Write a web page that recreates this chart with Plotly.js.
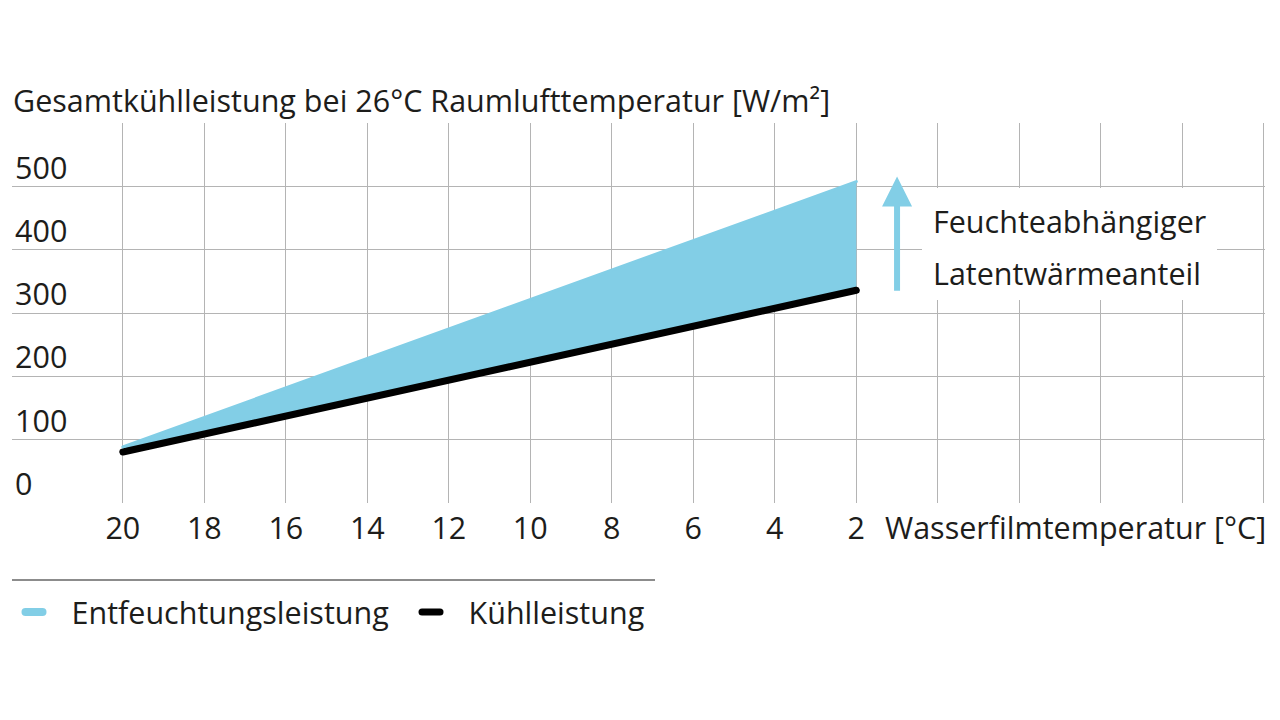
<!DOCTYPE html>
<html>
<head>
<meta charset="utf-8">
<script src="https://cdn.plot.ly/plotly-3.0.1.min.js"></script>
<style>
  html, body { margin: 0; padding: 0; background: #fff; }
  #chart { width: 1280px; height: 720px; }
  .scatterlayer .js-line { stroke-linecap: round; stroke-linejoin: round; }
  .legendlines path { stroke-linecap: round; d: path("M10.5,0h18"); }
  .legendfill path { d: path("M11,-4h17a4,4 0 0 1 0,8h-17a4,4 0 0 1 0,-8z"); }
</style>
</head>
<body>
<div id="chart"></div>
<script>
// ---- data ----
const waterTemp = [20, 2];                 // Wasserfilmtemperatur [°C]
const coolingPower = [80, 336];            // Kühlleistung [W/m²]
const dehumidPower = [88, 508];            // Entfeuchtungsleistung (upper edge) [W/m²]

const xTickVals = [20, 18, 16, 14, 12, 10, 8, 6, 4, 2, 0, -2, -4, -6, -8];
const xTickText = ['20', '18', '16', '14', '12', '10', '8', '6', '4', '2', '', '', '', '', ''];
const yTickVals = [0, 100, 200, 300, 400, 500, 600];
const yTickText = ['0', '100', '200', '300', '400', '500', ''];

const titleText = 'Gesamtkühlleistung bei 26°C Raumlufttemperatur [W/m²]';
const xLabelText = 'Wasserfilmtemperatur [°C]';
const noteLines = ['Feuchteabhängiger', 'Latentwärmeanteil'];
const arrowX = 1, arrowFrom = 333, arrowTo = 516;
const seriesNames = ['Entfeuchtungsleistung', 'Kühlleistung'];

// ---- style ----
const BLUE = '#82cee6';
const INK = '#1d1d1b';
const GRID = '#b4b4b4';
const FONT = '"Open Sans", "Noto Sans", sans-serif';
const FS = 30.5;

const traces = [
  {
    x: waterTemp, y: coolingPower, name: seriesNames[1],
    type: 'scatter', mode: 'lines',
    line: { color: '#000', width: 7 },
    hoverinfo: 'skip'
  },
  {
    x: waterTemp, y: dehumidPower, name: seriesNames[0],
    type: 'scatter', mode: 'lines',
    line: { color: BLUE, width: 3 },
    fill: 'tonexty', fillcolor: BLUE,
    hoverinfo: 'skip'
  }
];

const layout = {
  width: 1280, height: 720,
  margin: { l: 12, r: 15, t: 123, b: 217, pad: 0 },
  paper_bgcolor: '#fff', plot_bgcolor: '#fff',
  font: { family: FONT, size: FS, color: INK },
  title: {
    text: titleText,
    font: { family: FONT, size: FS, color: INK },
    xref: 'container', x: 13 / 1280, xanchor: 'left',
    yref: 'container', y: 1 - 101 / 720, yanchor: 'middle'
  },
  xaxis: {
    range: [22.72, -8.03],
    tickmode: 'array', tickvals: xTickVals, ticktext: xTickText,
    showgrid: true, gridcolor: GRID, gridwidth: 1,
    zeroline: false, showline: false, ticks: '',
    tickfont: { family: FONT, size: FS, color: INK },
    ticklabelstandoff: 4,
    fixedrange: true
  },
  yaxis: {
    range: [-0.8, 600.8],
    tickmode: 'array', tickvals: yTickVals, ticktext: yTickText,
    showgrid: true, gridcolor: GRID, gridwidth: 1,
    zeroline: false, showline: false, ticks: '',
    ticklabelposition: 'inside top',
    ticklabeloverflow: 'allow',
    ticklabelshift: 3,
    tickfont: { family: FONT, size: FS, color: INK },
    fixedrange: true
  },
  showlegend: true,
  legend: {
    orientation: 'h',
    traceorder: 'reversed',
    x: 0.002, xanchor: 'left',
    y: -0.287, yanchor: 'middle',
    font: { family: FONT, size: FS, color: INK },
    itemwidth: 47,
    entrywidth: 335,
    bgcolor: 'rgba(0,0,0,0)'
  },
  shapes: [
    { type: 'rect', xref: 'paper', yref: 'paper', layer: 'above',
      x0: (922 - 12) / 1253, x1: (1217 - 12) / 1253,
      y0: (503 - 300) / 380, y1: (503 - 188) / 380,
      fillcolor: '#fff', line: { width: 0 } },
    { type: 'line', xref: 'paper', yref: 'paper',
      x0: 0, x1: (655 - 12) / 1253,
      y0: (503 - 580) / 380, y1: (503 - 580) / 380,
      line: { color: '#8c8c8c', width: 2 } }
  ],
  annotations: [
    { xref: 'paper', yref: 'paper', x: 1, y: (503 - 527) / 380, xshift: 3,
      xanchor: 'right', yanchor: 'middle', showarrow: false,
      text: xLabelText, font: { family: FONT, size: FS, color: INK } },
    { xref: 'x', yref: 'y', x: arrowX, y: arrowTo,
      axref: 'x', ayref: 'y', ax: arrowX, ay: arrowFrom,
      text: '', showarrow: true, arrowhead: 2, arrowsize: 1,
      arrowwidth: 6, arrowcolor: BLUE, standoff: 0, startstandoff: 0 },
    { xref: 'paper', yref: 'paper', x: (931 - 12) / 1253, y: (503 - 221) / 380,
      xanchor: 'left', yanchor: 'middle', showarrow: false,
      text: noteLines[0], font: { family: FONT, size: FS, color: INK } },
    { xref: 'paper', yref: 'paper', x: (931 - 12) / 1253, y: (503 - 273) / 380,
      xanchor: 'left', yanchor: 'middle', showarrow: false,
      text: noteLines[1], font: { family: FONT, size: FS, color: INK } }
  ]
};

Plotly.newPlot('chart', traces, layout, { staticPlot: true, displayModeBar: false });
</script>
</body>
</html>
